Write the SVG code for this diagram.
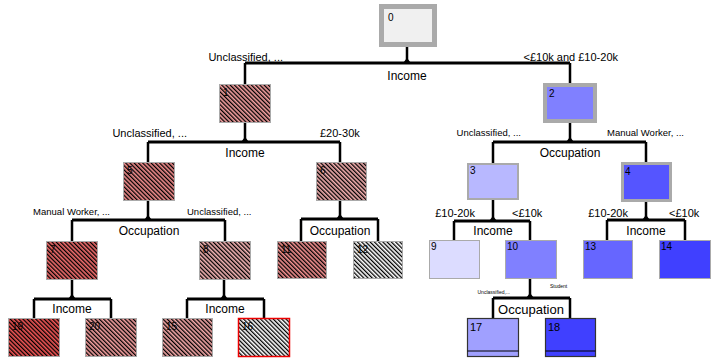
<svg xmlns="http://www.w3.org/2000/svg" width="719" height="362" viewBox="0 0 719 362">
<defs>
<pattern id="hatch" patternUnits="userSpaceOnUse" width="3" height="3" patternTransform="rotate(-45)">
<rect x="0" y="0" width="1.3" height="3" fill="#000"/>
</pattern>
<style>
text{font-family:"Liberation Sans",Arial,sans-serif;fill:#000}
.num{font-size:10px}
.lbl{font-size:11px}
.sm{font-size:9.5px}
.tiny{font-size:5px}
.split{font-size:12px;text-anchor:middle}
.bar{fill:none;stroke:#000;stroke-width:3}
.drop{fill:none;stroke:#000;stroke-width:2.5}
.thin{stroke:#aaa;stroke-width:1}
.hat{fill:url(#hatch);stroke:#aaa;stroke-width:1}
</style>
</defs>
<rect width="719" height="362" fill="#fff"/>

<g id="connectors">
<path class="drop" d="M407,47V63M245,63V84M570,63V83"/>
<path class="bar" d="M245,63H570"/>
<path d="M403,63L407,58L411,63Z"/>
<path class="drop" d="M245,123V142M148,142V162M340,142V162"/>
<path class="bar" d="M148,142H340"/>
<path d="M241,142L245,137L249,142Z"/>
<path class="drop" d="M570,123V142M493,142V163M646,142V162"/>
<path class="bar" d="M493,142H646"/>
<path d="M566,142L570,137L574,142Z"/>
<path class="drop" d="M148,201V220M72,220V241M225,220V241"/>
<path class="bar" d="M72,220H225"/>
<path d="M144,220L148,215L152,220Z"/>
<path class="drop" d="M340,201V219M301,219V241M378,219V241"/>
<path class="bar" d="M301,219H378"/>
<path d="M336,219L340,214L344,219Z"/>
<path class="drop" d="M493,200V221M454,221V240M530,221V240"/>
<path class="bar" d="M454,221H530"/>
<path d="M489,221L493,216L497,221Z"/>
<path class="drop" d="M646,202V220M607,220V240M685,220V240"/>
<path class="bar" d="M607,220H685"/>
<path d="M642,220L646,215L650,220Z"/>
<path class="drop" d="M72,280V299M34,299V318M111,299V318"/>
<path class="bar" d="M34,299H111"/>
<path d="M68,299L72,294L76,299Z"/>
<path class="drop" d="M224,280V299M187,299V318M264,299V318"/>
<path class="bar" d="M187,299H264"/>
<path d="M220,299L224,294L228,299Z"/>
<path class="drop" d="M530,279V298M493,298V318M570,298V318"/>
<path class="bar" d="M493,298H570"/>
<path d="M526,298L530,293L534,298Z"/>

<text class="split" x="407" y="80">Income</text>
<text class="split" x="245" y="157">Income</text>
<text class="split" x="570" y="157">Occupation</text>
<text class="split" x="149" y="235">Occupation</text>
<text class="split" x="340" y="235">Occupation</text>
<text class="split" x="493" y="235">Income</text>
<text class="split" x="646" y="235">Income</text>
<text class="split" x="72" y="313">Income</text>
<text class="split" x="225" y="313">Income</text>
<text class="split" x="531" y="314" style="font-size:13px">Occupation</text>

<text class="lbl" x="283" y="61" text-anchor="end">Unclassified, ...</text>
<text class="lbl" x="618" y="61" text-anchor="end">&lt;£10k and £10-20k</text>
<text class="lbl" x="187" y="137" text-anchor="end">Unclassified, ...</text>
<text class="lbl" x="320" y="137">£20-30k</text>
<text class="sm" x="521" y="136" text-anchor="end">Unclassified, ...</text>
<text class="sm" x="607" y="136">Manual Worker, ...</text>
<text class="sm" x="110" y="215" text-anchor="end">Manual Worker, ...</text>
<text class="sm" x="187" y="215">Unclassified, ...</text>
<text class="lbl" x="475" y="217" text-anchor="end">£10-20k</text>
<text class="lbl" x="512" y="217">&lt;£10k</text>
<text class="lbl" x="628" y="217" text-anchor="end">£10-20k</text>
<text class="lbl" x="669" y="217">&lt;£10k</text>
<text class="tiny" x="510" y="294" text-anchor="end">Unclassified,...</text>
<text class="tiny" x="550" y="288">Student</text>
</g>

<g id="node0"><rect x="381.5" y="6.5" width="53" height="38" fill="#f0f0f0" stroke="#aaa" stroke-width="5"/><text class="num" x="388" y="21">0</text></g>

<g id="node1"><rect x="219.5" y="84.5" width="51" height="38" fill="#f4a0a0"/><text class="num" x="223" y="96">1</text><rect class="hat" x="219.5" y="84.5" width="51" height="38"/></g>
<g id="node2"><rect x="545" y="85" width="50" height="36" fill="#8080ff" stroke="#aaa" stroke-width="4"/><text class="num" x="549" y="97">2</text></g>

<g id="node5"><rect x="123.5" y="162.5" width="51" height="38" fill="#f08c8c"/><text class="num" x="127" y="174">5</text><rect class="hat" x="123.5" y="162.5" width="51" height="38"/></g>
<g id="node6"><rect x="316.5" y="162.5" width="50" height="38" fill="#f4b0b0"/><text class="num" x="320" y="174">6</text><rect class="hat" x="316.5" y="162.5" width="50" height="38"/></g>
<g id="node3"><rect x="468" y="164" width="50" height="35" fill="#b8b8ff" stroke="#aaa" stroke-width="2"/><text class="num" x="470" y="174">3</text></g>
<g id="node4"><rect x="622.5" y="163.5" width="48" height="37" fill="#5555ff" stroke="#aaa" stroke-width="3"/><text class="num" x="625" y="175">4</text></g>

<g id="node7"><rect x="46.5" y="241.5" width="51" height="38" fill="#f06c6c"/><text class="num" x="50" y="253">7</text><rect class="hat" x="46.5" y="241.5" width="51" height="38"/></g>
<g id="node8"><rect x="199.5" y="241.5" width="51" height="38" fill="#f4b4b4"/><text class="num" x="203" y="253">8</text><rect class="hat" x="199.5" y="241.5" width="51" height="38"/></g>
<g id="node11"><rect x="277.5" y="241.5" width="49" height="37" fill="#f29090"/><text class="num" x="281" y="253">11</text><rect class="hat" x="277.5" y="241.5" width="49" height="37"/></g>
<g id="node12"><rect x="353.5" y="241.5" width="49" height="37" fill="#fff"/><text class="num" x="357" y="253">12</text><rect class="hat" x="353.5" y="241.5" width="49" height="37"/></g>
<g id="node9"><rect x="429.5" y="240.5" width="50" height="38" fill="#dcdcff" class="thin"/><text class="num" x="431" y="250">9</text></g>
<g id="node10"><rect x="505.5" y="240.5" width="51" height="38" fill="#8080ff" class="thin"/><text class="num" x="507" y="250">10</text></g>
<g id="node13"><rect x="583.5" y="240.5" width="49" height="38" fill="#6666ff" class="thin"/><text class="num" x="585" y="250">13</text></g>
<g id="node14"><rect x="659.5" y="240.5" width="51" height="38" fill="#4040ff" class="thin"/><text class="num" x="661" y="250">14</text></g>

<g id="node19"><rect x="8.5" y="318.5" width="51" height="38" fill="#f05555"/><text class="num" x="12" y="330">19</text><rect class="hat" x="8.5" y="318.5" width="51" height="38"/></g>
<g id="node20"><rect x="85.5" y="318.5" width="51" height="38" fill="#f4a0a0"/><text class="num" x="89" y="330">20</text><rect class="hat" x="85.5" y="318.5" width="51" height="38"/></g>
<g id="node15"><rect x="162.5" y="318.5" width="50" height="38" fill="#f4a8a8"/><text class="num" x="166" y="330">15</text><rect class="hat" x="162.5" y="318.5" width="50" height="38"/></g>
<g id="node16"><rect x="238.5" y="318.5" width="51" height="38" fill="#fff"/><text class="num" x="242" y="330">16</text><rect x="238.5" y="318.5" width="51" height="38" fill="url(#hatch)" stroke="#e00" stroke-width="1.5"/></g>
<g id="node17"><rect x="467.5" y="318.5" width="51" height="38" fill="#a0a0ff" stroke="#333" stroke-width="1.2"/><line x1="467.5" y1="351" x2="518.5" y2="351" stroke="#000" stroke-width="1"/><text class="num" x="470" y="331" style="font-size:11px">17</text></g>
<g id="node18"><rect x="545.5" y="318.5" width="50" height="38" fill="#4040ff" stroke="#333" stroke-width="1.2"/><line x1="545.5" y1="351" x2="595.5" y2="351" stroke="#000" stroke-width="1"/><text class="num" x="548" y="331" style="font-size:11px">18</text></g>
</svg>
